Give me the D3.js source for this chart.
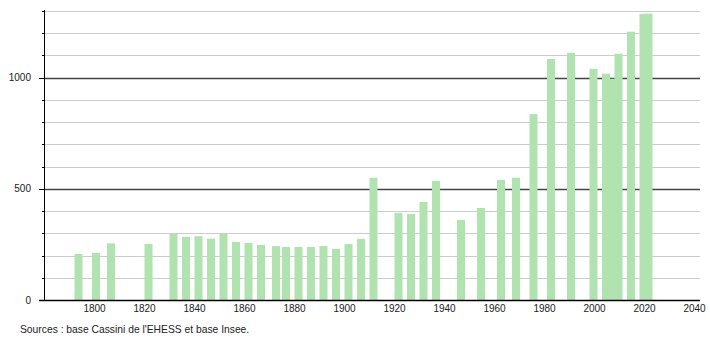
<!DOCTYPE html>
<html>
<head>
<meta charset="utf-8">
<script src="https://cdn.jsdelivr.net/npm/d3@7"></script>
<style>
  body { margin: 0; background: #fff; }
  svg { display: block; font-family: "Liberation Sans", Arial, sans-serif; }
</style>
</head>
<body>
<div id="vis"></div>
<script>
const FRAME_WIDTH = 710;
const FRAME_HEIGHT = 340;

// census years and population
const years = [1793, 1800, 1806, 1821, 1831, 1836, 1841, 1846, 1851, 1856,
               1861, 1866, 1872, 1876, 1881, 1886, 1891, 1896, 1901, 1906,
               1911, 1921, 1926, 1931, 1936, 1946, 1954, 1962, 1968, 1975,
               1982, 1990, 1999, 2004, 2006, 2009, 2014, 2019, 2021];
const population = [207, 212, 255, 252, 297, 284, 287, 276, 297, 261,
                    257, 248, 243, 239, 239, 239, 243, 230, 252, 275,
                    550, 392, 387, 441, 536, 360, 414, 540, 550, 836,
                    1084, 1112, 1040, 1018, 995, 1108, 1207, 1287, 1288];

const xTicks = [1800, 1820, 1840, 1860, 1880, 1900, 1920, 1940, 1960, 1980, 2000, 2020, 2040];
const yLabels = [0, 500, 1000];
const yGrid = d3.range(100, 1301, 100);
const sourceText = "Sources : base Cassini de l'EHESS et base Insee.";

const svg = d3.select("#vis")
  .append("svg")
    .attr("width", FRAME_WIDTH)
    .attr("height", FRAME_HEIGHT);

// 1800 -> 94.5, 2040 -> 694.5
const X_SCALE = d3.scaleLinear()
  .domain([1800, 2040])
  .range([94.5, 694.5]);

const Y_SCALE = d3.scaleLinear()
  .domain([0, 1300])
  .range([300, 11]);

const LEFT = 44, RIGHT = 700;

// gridlines
svg.append("g")
  .selectAll("line")
  .data(yGrid)
  .enter()
  .append("line")
    .attr("x1", LEFT)
    .attr("x2", RIGHT)
    .attr("y1", d => Math.round(Y_SCALE(d)) + 0.5)
    .attr("y2", d => Math.round(Y_SCALE(d)) + 0.5)
    .attr("stroke", d => d % 500 === 0 ? "#444" : "#ccc")
    .attr("stroke-width", d => d % 500 === 0 ? 1.3 : 1);

// bars
const BAR_W = 8;
svg.append("g")
  .selectAll("rect")
  .data(years)
  .enter()
  .append("rect")
    .attr("x", (d) => X_SCALE(d) + 1.5 - BAR_W / 2)
    .attr("y", (d, i) => Y_SCALE(population[i]))
    .attr("width", BAR_W)
    .attr("height", (d, i) => Y_SCALE(0) - Y_SCALE(population[i]))
    .attr("fill", "#b0e3b0");

// y axis line + ticks
svg.append("line")
  .attr("x1", LEFT + 0.5).attr("x2", LEFT + 0.5)
  .attr("y1", 10).attr("y2", 300)
  .attr("stroke", "#000");

svg.append("g")
  .selectAll("line")
  .data(d3.range(0, 1301, 100))
  .enter()
  .append("line")
    .attr("x1", d => d % 500 === 0 ? 39 : 42)
    .attr("x2", LEFT)
    .attr("y1", d => Math.round(Y_SCALE(d)) + 0.5)
    .attr("y2", d => Math.round(Y_SCALE(d)) + 0.5)
    .attr("stroke", "#000");

svg.append("g")
  .selectAll("text")
  .data(yLabels)
  .enter()
  .append("text")
    .attr("x", 31)
    .attr("y", d => Y_SCALE(d) + 3.5)
    .attr("text-anchor", "end")
    .attr("font-size", "10px")
    .attr("fill", "#222")
    .text(d => d);

// x axis line
svg.append("line")
  .attr("x1", 39).attr("x2", RIGHT)
  .attr("y1", 300.5).attr("y2", 300.5)
  .attr("stroke", "#000")
  .attr("stroke-width", 1.3);

svg.append("g")
  .selectAll("text")
  .data(xTicks)
  .enter()
  .append("text")
    .attr("x", d => X_SCALE(d))
    .attr("y", 312)
    .attr("text-anchor", "middle")
    .attr("font-size", "10px")
    .attr("fill", "#222")
    .text(d => d);

svg.append("text")
  .attr("x", 20)
  .attr("y", 333)
  .attr("font-size", "10.3px")
  .attr("fill", "#222")
  .text(sourceText);
</script>
</body>
</html>
